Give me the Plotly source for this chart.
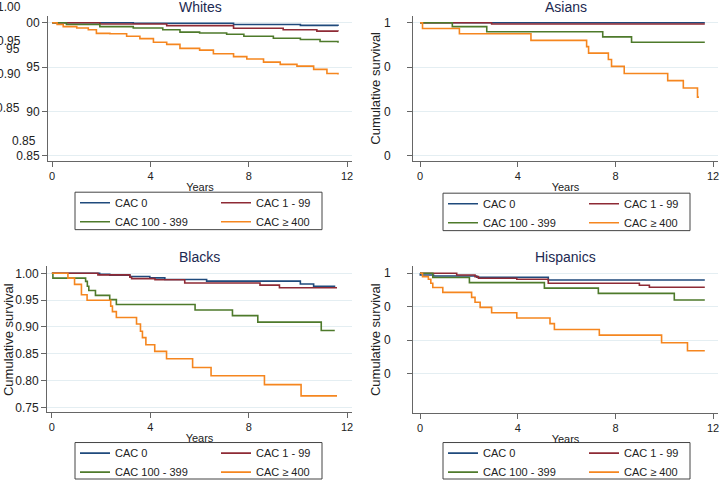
import plotly.graph_objects as go

W, H = 720, 487

groups = ["CAC 0", "CAC 1 - 99", "CAC 100 - 399", "CAC \u2265 400"]
colors = ["#1f4a7c", "#8e2a35", "#4e7a2b", "#f5861f"]

# Whites
whites_t_cac0 = [0, 3.3, 7.38, 10.1, 11.63]
whites_s_cac0 = [1.0, 0.9993, 0.998, 0.997, 0.9964]
whites_t_cac1 = [0, 1.94, 4.66, 7.38, 9.4, 10.77, 11.63]
whites_s_cac1 = [1.0, 0.9985, 0.9967, 0.9938, 0.992, 0.9905, 0.990]
whites_t_cac100 = [0, 0.58, 1.94, 3.3, 4.5, 5.2, 6.0, 7.1, 7.8, 9.0, 10.1, 10.9, 11.63]
whites_s_cac100 = [1.0, 0.998, 0.9956, 0.994, 0.992, 0.9894, 0.9883, 0.9869, 0.9847, 0.9825, 0.981, 0.9788, 0.9774]
whites_t_cac400 = [0, 0.2, 0.45, 1.0, 1.47, 1.8, 2.35, 3.03, 3.57, 4.12, 4.66, 5.2, 6.0, 6.56,
                   7.38, 7.92, 8.6, 9.28, 9.96, 10.64, 11.18, 11.63]
whites_s_cac400 = [1.0, 0.998, 0.9956, 0.994, 0.992, 0.988, 0.9876, 0.9847, 0.982, 0.978, 0.9755, 0.971,
                   0.969, 0.965, 0.9617, 0.959, 0.9555, 0.953, 0.951, 0.9474, 0.9427, 0.9416]

# Asians
asians_t_cac0 = [0, 11.66]
asians_s_cac0 = [1.0, 1.0]
asians_t_cac1 = [0, 2.93, 11.66]
asians_s_cac1 = [1.0, 0.9985, 0.9985]
asians_t_cac100 = [0, 1.32, 2.73, 7.48, 8.66, 11.66]
asians_s_cac100 = [1.0, 0.9956, 0.9898, 0.984, 0.978, 0.978]
asians_t_cac400 = [0, 0.1, 1.61, 4.54, 6.82, 6.9, 7.71, 7.84, 8.36, 10.14, 10.78, 11.36, 11.42]
asians_s_cac400 = [1.0, 0.9934, 0.9876, 0.980, 0.973, 0.9657, 0.9584, 0.9507, 0.9427, 0.9347, 0.9263, 0.916, 0.916]

# Blacks
blacks_t_cac0 = [0, 1.94, 2.35, 3.17, 3.98, 4.59, 6.29, 10.1, 10.64, 11.52]
blacks_s_cac0 = [1.0, 0.998, 0.9964, 0.994, 0.9915, 0.9885, 0.9855, 0.980, 0.976, 0.976]
blacks_t_cac1 = [0, 1.87, 3.17, 3.24, 4.19, 5.4, 8.46, 9.25, 11.59]
blacks_s_cac1 = [1.0, 0.997, 0.9927, 0.990, 0.988, 0.9818, 0.978, 0.973, 0.973]
blacks_t_cac100 = [0, 0.04, 1.37, 1.44, 1.5, 1.77, 2.35, 2.62, 5.82, 7.34, 8.37, 10.95, 11.5]
blacks_s_cac100 = [1.0, 0.991, 0.985, 0.9758, 0.968, 0.9588, 0.951, 0.9418, 0.9315, 0.921, 0.909, 0.8933, 0.8933]
blacks_t_cac400 = [0, 0.65, 0.92, 1.2, 1.43, 2.39, 2.46, 2.62, 3.44, 3.6, 3.68, 3.82, 4.18, 4.66,
                   5.72, 6.47, 8.64, 10.13, 11.59]
blacks_s_cac400 = [1.0, 0.991, 0.9794, 0.96, 0.9497, 0.9388, 0.9285, 0.9176, 0.9055, 0.892, 0.88,
                   0.8667, 0.8545, 0.8406, 0.8245, 0.809, 0.7925, 0.7715, 0.7715]

# Hispanics
hisp_t_cac0 = [0, 0.01, 0.55, 2.32, 5.25, 11.66]
hisp_s_cac0 = [1.0, 0.9975, 0.996, 0.994, 0.990, 0.990]
hisp_t_cac1 = [0, 1.5, 2.25, 2.39, 3.96, 5.25, 8.98, 9.39, 11.66]
hisp_s_cac1 = [1.0, 0.9975, 0.995, 0.9926, 0.991, 0.985, 0.982, 0.979, 0.979]
hisp_t_cac100 = [0, 0.52, 2.02, 5.09, 7.3, 10.41, 11.66]
hisp_s_cac100 = [1.0, 0.9936, 0.986, 0.9778, 0.970, 0.960, 0.960]
hisp_t_cac400 = [0, 0.1, 0.34, 0.44, 0.52, 0.93, 2.11, 2.25, 2.46, 2.93, 3.96, 5.32, 5.5, 7.34,
                 9.89, 10.95, 11.66]
hisp_s_cac400 = [1.0, 0.995, 0.991, 0.985, 0.9788, 0.9714, 0.964, 0.9567, 0.949, 0.9409, 0.933,
                 0.9246, 0.9158, 0.9074, 0.896, 0.884, 0.884]

x_ticks = [0, 4, 8, 12]

panels = [
    dict(title="Whites", ax="", data=[(whites_t_cac0, whites_s_cac0), (whites_t_cac1, whites_s_cac1),
                                     (whites_t_cac100, whites_s_cac100), (whites_t_cac400, whites_s_cac400)],
         xdom=[48, 352], ydom=[16, 163], xr=[-0.17, 12.2], yr=[0.8444, 1.0078],
         tickvals=[0.85, 0.90, 0.95, 1.00], ticktext=["0.85", "90", "95", "00"], standoff=0,
         box=(75, 195, 322, 233), ytitle=None),
    dict(title="Asians", ax="2", data=[(asians_t_cac0, asians_s_cac0), (asians_t_cac1, asians_s_cac1),
                                      (asians_t_cac100, asians_s_cac100), (asians_t_cac400, asians_s_cac400)],
         xdom=[413, 718], ydom=[16, 163], xr=[-0.29, 12.2], yr=[0.8444, 1.0078],
         tickvals=[0.85, 0.90, 0.95, 1.00], ticktext=["0", "0", "0", "1"], standoff=14,
         box=(443, 196, 690, 234), ytitle=(376, 90)),
    dict(title="Blacks", ax="3", data=[(blacks_t_cac0, blacks_s_cac0), (blacks_t_cac1, blacks_s_cac1),
                                      (blacks_t_cac100, blacks_s_cac100), (blacks_t_cac400, blacks_s_cac400)],
         xdom=[47, 352], ydom=[270, 418], xr=[-0.2, 12.2], yr=[0.7414, 1.0134],
         tickvals=[0.75, 0.80, 0.85, 0.90, 0.95, 1.00],
         ticktext=["0.75", "0.80", "0.85", "0.90", "0.95", "1.00"], standoff=0,
         box=(75, 449, 322, 486), ytitle=(8, 345)),
    dict(title="Hispanics", ax="4", data=[(hisp_t_cac0, hisp_s_cac0), (hisp_t_cac1, hisp_s_cac1),
                                         (hisp_t_cac100, hisp_s_cac100), (hisp_t_cac400, hisp_s_cac400)],
         xdom=[413, 718], ydom=[270, 419], xr=[-0.29, 12.2], yr=[0.791, 1.0107],
         tickvals=[0.85, 0.90, 0.95, 1.00], ticktext=["0", "0", "0", "1"], standoff=14,
         box=(443, 449, 690, 486), ytitle=(375, 345)),
]

font = "Liberation Sans, Arial, sans-serif"
fig = go.Figure()
annotations = []
shapes = []
legend_width = [96, 50, 96, 50]

for i, p in enumerate(panels):
    lg = "legend" + ("" if i == 0 else str(i + 1))
    for j, (t, s) in enumerate(p["data"]):
        fig.add_trace(go.Scatter(
            x=t, y=s, mode="lines", line=dict(color=colors[j], width=1.6, shape="hv"),
            name=groups[j], xaxis="x" + p["ax"], yaxis="y" + p["ax"],
            legend=lg, legendgroup="p%d_%s" % (i, "a" if j % 2 == 0 else "b"),
            legendwidth=legend_width[j], showlegend=True,
        ))
    xa = dict(domain=[p["xdom"][0] / W, p["xdom"][1] / W], range=p["xr"], anchor="y" + p["ax"],
              tickvals=x_ticks, ticks="outside", ticklen=5, tickcolor="#666", automargin=False,
              showline=True, linecolor="#666", linewidth=1, showgrid=False, zeroline=False,
              tickfont=dict(size=11, color="#222", family=font),
              title=dict(text="Years", font=dict(size=11, color="#222", family=font), standoff=2))
    ya = dict(domain=[1 - p["ydom"][1] / H, 1 - p["ydom"][0] / H], range=p["yr"], anchor="x" + p["ax"],
              tickvals=p["tickvals"], ticktext=p["ticktext"], ticks="outside", ticklen=5, tickcolor="#666",
              ticklabelstandoff=p["standoff"], automargin=False,
              showline=True, linecolor="#666", linewidth=1, showgrid=True, gridcolor="#e4eef2",
              gridwidth=1, zeroline=False, tickfont=dict(size=12, color="#222", family=font))
    fig.update_layout(**{"xaxis" + p["ax"]: xa, "yaxis" + p["ax"]: ya})
    bx0, by0, bx1, by1 = p["box"]
    fig.update_layout(**{lg: dict(orientation="h", x=bx0 / W, y=1 - (by0 - 4) / H,
                                  xanchor="left", yanchor="top",
                                  borderwidth=0, bgcolor="rgba(0,0,0,0)",
                                  font=dict(size=11, color="#222", family=font),
                                  itemclick=False, itemdoubleclick=False)})
    shapes.append(dict(type="rect", xref="paper", yref="paper", x0=bx0 / W, x1=bx1 / W,
                       y0=1 - by1 / H, y1=1 - by0 / H, line=dict(color="#444", width=1)))
    cx = (p["xdom"][0] + p["xdom"][1]) / 2
    ty = 7 if p["ydom"][0] < 100 else 261
    annotations.append(dict(text=p["title"], x=cx / W, y=1 - ty / H, xref="paper", yref="paper",
                            xanchor="center", yanchor="middle", showarrow=False,
                            font=dict(size=14, color="#1c2951", family=font)))
    if p["ytitle"]:
        annotations.append(dict(text="Cumulative survival", x=p["ytitle"][0] / W, y=1 - p["ytitle"][1] / H,
                                xref="paper", yref="paper", xanchor="center", yanchor="middle",
                                textangle=-90, showarrow=False,
                                font=dict(size=13, color="#222", family=font)))

# stray overlapping labels in the Whites panel
for txt, px, py in [("1.00", 23, 7), ("0.95", 23, 42), ("95", 22, 50), ("0.90", 23, 75),
                    ("0.85", 22, 110), ("0.85", 38, 143)]:
    annotations.append(dict(text=txt, x=px / W, y=1 - py / H, xref="paper", yref="paper",
                            xanchor="right", yanchor="middle", showarrow=False,
                            font=dict(size=12, color="#222", family=font)))

fig.update_layout(width=W, height=H, autosize=False, margin=dict(l=0, r=0, t=0, b=0),
                  paper_bgcolor="white", plot_bgcolor="white",
                  annotations=annotations, shapes=shapes)

fig.write_html("out.html", config={"displayModeBar": False, "responsive": False},
               post_script="document.body.style.margin='0';document.body.style.overflow='hidden';")
